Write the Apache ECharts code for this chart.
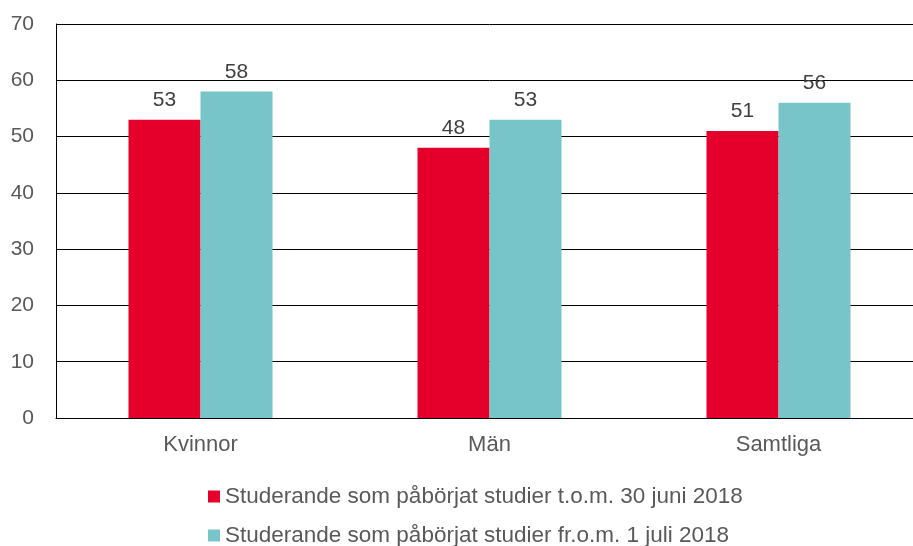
<!DOCTYPE html>
<html>
<head>
<meta charset="utf-8">
<script src="https://cdn.jsdelivr.net/npm/echarts@6/dist/echarts.min.js"></script>
<style>
  html, body { margin: 0; padding: 0; background: #fff; overflow: hidden; }
  /* plot area runs slightly past the right edge in the original */
  #chart { width: 923px; height: 546px; }
</style>
</head>
<body>
<div id="chart"></div>
<script>
// data
const categories = ['Kvinnor', 'Män', 'Samtliga'];
const seriesNames = [
  'Studerande som påbörjat studier t.o.m. 30 juni 2018',
  'Studerande som påbörjat studier fr.o.m. 1 juli 2018'
];
const beforeValues = [53, 48, 51];
const afterValues = [58, 53, 56];
const colors = ['#E4002B', '#77C5C8'];

const chart = echarts.init(document.getElementById('chart'));
const font = 'Liberation Sans, Arial, sans-serif';

const label = {
  show: true,
  position: 'top',
  distance: 9,
  fontFamily: font,
  fontSize: 21,
  color: '#404040'
};

const legendBase = (name, top) => ({
  left: 208,
  top: top,
  itemWidth: 12,
  itemHeight: 12,
  icon: 'rect',
  padding: 0,
  textStyle: { fontFamily: font, fontSize: 22.5, color: '#595959' },
  data: [name]
});

chart.setOption({
  animation: false,
  backgroundColor: '#fff',
  color: colors,
  grid: { left: 56, right: 0, top: 24, bottom: 128 },
  legend: [
    legendBase(seriesNames[0], 485),
    legendBase(seriesNames[1], 524)
  ],
  xAxis: {
    type: 'category',
    data: categories,
    axisLine: { lineStyle: { color: '#000', width: 1 } },
    axisTick: { show: false },
    axisLabel: { fontFamily: font, fontSize: 22, color: '#595959', margin: 16 }
  },
  yAxis: {
    type: 'value',
    min: 0,
    max: 70,
    interval: 10,
    axisLine: { show: true, lineStyle: { color: '#000', width: 1 } },
    axisTick: { show: false },
    splitLine: { lineStyle: { color: '#000', width: 1 } },
    axisLabel: { fontFamily: font, fontSize: 21, color: '#595959', margin: 22 }
  },
  series: [
    {
      name: seriesNames[0],
      type: 'bar',
      data: beforeValues,
      barWidth: 72,
      barGap: '0%',
      label: label
    },
    {
      name: seriesNames[1],
      type: 'bar',
      data: afterValues,
      barWidth: 72,
      barGap: '0%',
      label: label
    }
  ]
});
</script>
</body>
</html>
